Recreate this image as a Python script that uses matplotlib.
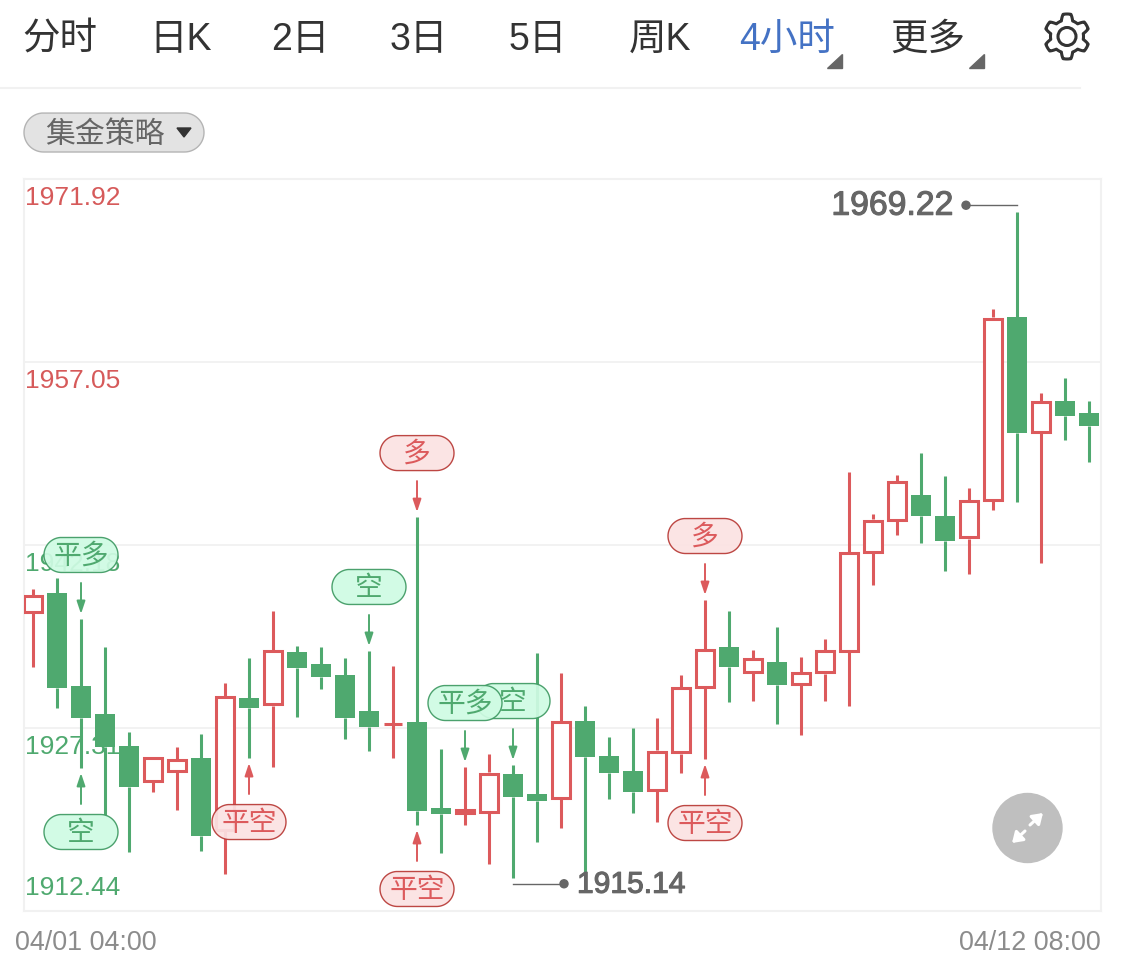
"""4-hour candlestick chart with trade signal badges, laid out like the mobile quote page."""
import matplotlib

matplotlib.use("Agg")
import matplotlib.patheffects as pe
import matplotlib.pyplot as plt
import numpy as np
from matplotlib.patches import Circle, PathPatch, Polygon
from matplotlib.path import Path

plt.rcParams["font.family"] = ["Liberation Sans", "Noto Sans CJK SC", "DejaVu Sans"]

RED = "#dc5a5c"
GREEN = "#4fa96f"
GRID = "#f1f1f1"
HOLLOW_INSET = 0.12  # half the outline, in price units

# 4h candles, left to right
opens = [1936.65, 1938.28, 1930.72, 1928.45, 1925.85, 1922.92, 1923.73, 1924.87, 1918.94, 1929.75,
         1929.10, 1933.48, 1932.51, 1931.62, 1928.69, 1927.58, 1927.80, 1920.81, 1920.32, 1920.40,
         1923.57, 1921.95, 1921.54, 1927.88, 1925.03, 1923.81, 1922.19, 1925.20, 1930.56, 1933.89,
         1931.78, 1932.67, 1930.80, 1931.70, 1933.48, 1941.53, 1944.13, 1946.24, 1944.54, 1942.67,
         1945.75, 1960.67, 1951.28, 1953.88, 1952.91]
closes = [1938.12, 1930.56, 1928.12, 1925.76, 1922.51, 1925.03, 1924.79, 1918.53, 1929.91, 1928.93,
          1933.65, 1932.18, 1931.45, 1928.12, 1927.39, 1927.70, 1920.56, 1920.32, 1920.73, 1923.73,
          1921.70, 1921.38, 1927.88, 1924.95, 1923.65, 1922.11, 1925.52, 1930.64, 1933.73, 1932.27,
          1933.00, 1930.80, 1931.86, 1933.65, 1941.61, 1944.29, 1947.38, 1944.54, 1942.50, 1945.84,
          1960.67, 1951.28, 1953.88, 1952.66, 1951.85]
highs = [1938.60, 1939.50, 1936.17, 1933.89, 1926.98, 1925.03, 1925.76, 1926.82, 1930.96, 1933.00,
         1936.82, 1933.97, 1933.89, 1933.00, 1933.57, 1932.35, 1944.45, 1925.60, 1924.14, 1925.20,
         1924.30, 1933.40, 1931.78, 1929.10, 1926.58, 1927.31, 1928.12, 1931.62, 1937.71, 1936.82,
         1933.65, 1935.52, 1933.08, 1934.54, 1948.11, 1944.70, 1947.87, 1949.65, 1947.79, 1946.81,
         1961.36, 1969.22, 1954.53, 1955.75, 1953.88]
lows = [1932.27, 1928.93, 1924.06, 1920.24, 1917.23, 1922.11, 1920.64, 1917.31, 1915.44, 1924.87,
        1924.14, 1928.20, 1930.48, 1926.41, 1925.44, 1924.87, 1919.43, 1917.15, 1919.43, 1916.26,
        1915.14, 1918.04, 1919.18, 1915.20, 1921.54, 1920.40, 1919.67, 1923.65, 1924.79, 1929.42,
        1929.50, 1927.63, 1926.74, 1929.50, 1929.10, 1938.93, 1942.99, 1942.34, 1940.07, 1939.82,
        1945.02, 1945.67, 1940.72, 1950.71, 1948.92]

price_ticks = [1971.92, 1957.05, 1942.18, 1927.31, 1912.44]
tick_colors = ["#d65a5a", "#d65a5a", GREEN, GREEN, GREEN]
date_labels = ["04/01 04:00", "04/12 08:00"]

# strategy signals: label, candle index, side of the candle
signal_labels = ["平多", "空", "平空", "空", "多", "平空", "空", "平多", "多", "平空"]
signal_candles = [2, 2, 9, 14, 16, 16, 20, 18, 28, 28]
signal_sides = ["top", "bottom", "bottom", "top", "top", "bottom", "top", "top", "top", "bottom"]

tab_labels = ["分时", "日K", "2日", "3日", "5日", "周K", "4小时", "更多"]
tab_centers = [60, 181, 300, 419, 538, 660, 787, 928]


def pill_path(cx, cy, width, height):
    """Closed outline of a box with fully round ends."""
    r = height / 2
    t = np.linspace(-np.pi / 2, np.pi / 2, 40)
    right = np.column_stack([cx + width / 2 - r + r * np.cos(t), cy + r * np.sin(t)])
    left = np.column_stack([cx - width / 2 + r - r * np.cos(t), cy - r * np.sin(t)])
    return Path(np.vstack([right, left]), closed=True)


def main():
    fig = plt.figure(figsize=(11.25, 9.67), dpi=100)
    ax = fig.add_axes([24 / 1125, 1 - 911 / 967, 1077 / 1125, 732 / 967])
    ax.set_xlim(-0.375, 44.5)
    ax.set_ylim(price_ticks[-1], price_ticks[0])
    ax.set_yticks(price_ticks)
    ax.set_xticks([])
    ax.tick_params(left=False, labelleft=False)
    ax.grid(axis="y", color=GRID, linewidth=1.3, zorder=0)
    ax.set_axisbelow(True)
    for spine in ax.spines.values():
        spine.set_color(GRID)
        spine.set_linewidth(1.5)

    # price labels sit inside the plot, under the candles
    for k, (price, color) in enumerate(zip(price_ticks, tick_colors)):
        last = k == len(price_ticks) - 1
        ax.annotate(f"{price:.2f}", (0, price), xycoords=("axes fraction", "data"),
                    xytext=(1, 8 if last else -5), textcoords="offset points",
                    va="bottom" if last else "top", ha="left",
                    color=color, fontsize=19, zorder=1)

    x = np.arange(len(opens))
    for i in x:
        up = closes[i] >= opens[i]
        color = RED if up else GREEN
        top, bottom = max(opens[i], closes[i]), min(opens[i], closes[i])
        ax.vlines(i, top, highs[i], color=color, linewidth=2.2, zorder=3)
        ax.vlines(i, lows[i], bottom, color=color, linewidth=2.2, zorder=3)
        if up:
            height = max(top - bottom - 2 * HOLLOW_INSET, 0)
            ax.bar(i, height, bottom=(top + bottom - height) / 2, width=0.72, facecolor="white",
                   edgecolor=color, linewidth=2.2, zorder=4)
        else:
            ax.bar(i, top - bottom, bottom=bottom, width=0.87, color=color, linewidth=0, zorder=4)

    # everything else goes on a full-figure layer in pixel coordinates
    ui = fig.add_axes([0, 0, 1, 1])
    ui.set_xlim(0, 1125)
    ui.set_ylim(967, 0)
    ui.axis("off")
    ui.patch.set_alpha(0)

    def to_ui(i, price):
        return ui.transData.inverted().transform(ax.transData.transform((i, price)))

    # signal badges and arrows
    for label, i, side in zip(signal_labels, signal_candles, signal_sides):
        is_red = label in ("多", "平空")
        text_color = RED if is_red else GREEN
        face = "#fbe2e2" if is_red else "#cffbe3"
        edge = "#b83a36" if is_red else "#3f9a63"
        cx, y = to_ui(i, highs[i] if side == "top" else lows[i])
        sign = -1 if side == "top" else 1
        ui.annotate("", xy=(cx, y + sign * 5), xytext=(cx, y + sign * 36),
                    arrowprops=dict(arrowstyle="-|>,head_length=0.75,head_width=0.25", color=text_color,
                                    linewidth=1.4, shrinkA=0, shrinkB=0))
        cy = y + sign * 64
        ui.add_patch(PathPatch(pill_path(cx, cy, 74, 35), facecolor=face, edgecolor=edge,
                               linewidth=1, alpha=0.93, zorder=5))
        ui.text(cx, cy + 2, label, ha="center", va="center", color=text_color, fontsize=20, zorder=6)

    # highest and lowest price callouts
    i_max = int(np.argmax(highs))
    i_min = int(np.argmin(lows))
    hx, hy = to_ui(i_max, highs[i_max])
    lx, ly = to_ui(i_min, lows[i_min])
    heavy = [pe.withStroke(linewidth=0.8, foreground="#666666")]
    ui.plot([hx, hx - 51], [hy - 7, hy - 7], color="#666666", linewidth=1, zorder=5)
    ui.add_patch(Circle((hx - 51, hy - 7), 4, color="#666666", zorder=5))
    ui.text(hx - 63, hy - 6, f"{highs[i_max]:.2f}", ha="right", va="center", color="#666666",
            fontsize=24.3, path_effects=heavy, zorder=5)
    ui.plot([lx, lx + 51], [ly + 6, ly + 6], color="#666666", linewidth=1, zorder=5)
    ui.add_patch(Circle((lx + 51, ly + 6), 4, color="#666666", zorder=5))
    ui.text(lx + 64, ly + 7, f"{lows[i_min]:.2f}", ha="left", va="center", color="#666666",
            fontsize=21.6, path_effects=heavy, zorder=5)

    # date labels under the plot
    ui.text(15, 943, date_labels[0], ha="left", va="center", color="#8c8c8c", fontsize=19.4)
    ui.text(1101, 943, date_labels[1], ha="right", va="center", color="#8c8c8c", fontsize=19.4)

    # tab bar
    for label, center in zip(tab_labels, tab_centers):
        color = "#4472c4" if label == "4小时" else "#333333"
        ui.text(center, 40, label, ha="center", va="center", color=color, fontsize=27)
    for x0 in (827, 969):
        ui.add_patch(Polygon([(x0 + 15, 54), (x0 + 15, 68), (x0, 68)], color="#666666"))
    ui.plot([0, 1080], [88, 88], color=GRID, linewidth=1.5)

    # settings gear
    angles = np.linspace(0, 2 * np.pi, 361)
    radius = 19.5 + 3 * np.clip(2 * np.cos(6 * (angles - np.pi / 2)), -1, 1)
    verts = np.column_stack([1067 + radius * np.cos(angles), 36.5 + radius * np.sin(angles)])
    ui.add_patch(PathPatch(Path(verts, closed=True), facecolor="none", edgecolor="#333333",
                           linewidth=2.2, joinstyle="round"))
    ui.add_patch(Circle((1067, 36.5), 9, facecolor="none", edgecolor="#333333", linewidth=2.2))

    # strategy dropdown
    ui.add_patch(PathPatch(pill_path(114, 132.5, 180, 39), facecolor="#e3e3e3", edgecolor="#b4b4b4",
                           linewidth=1))
    ui.text(105, 135, "集金策略", ha="center", va="center", color="#666666", fontsize=21.5)
    ui.add_patch(Polygon([(177, 128), (191, 128), (184, 137)], color="#333333"))

    # expand button
    ui.add_patch(Circle((1027.5, 828), 34.5, color="#bfbfbf", zorder=7))
    for tail, tip in (((1030, 825), (1043, 813)), ((1025, 831), (1012, 843))):
        ui.annotate("", xy=tip, xytext=tail, zorder=8,
                    arrowprops=dict(arrowstyle="-|>,head_length=0.6,head_width=0.4", color="white",
                                    linewidth=2.2, shrinkA=0, shrinkB=0))

    fig.savefig("out.png", dpi=100)
    plt.close(fig)


if __name__ == "__main__":
    main()
